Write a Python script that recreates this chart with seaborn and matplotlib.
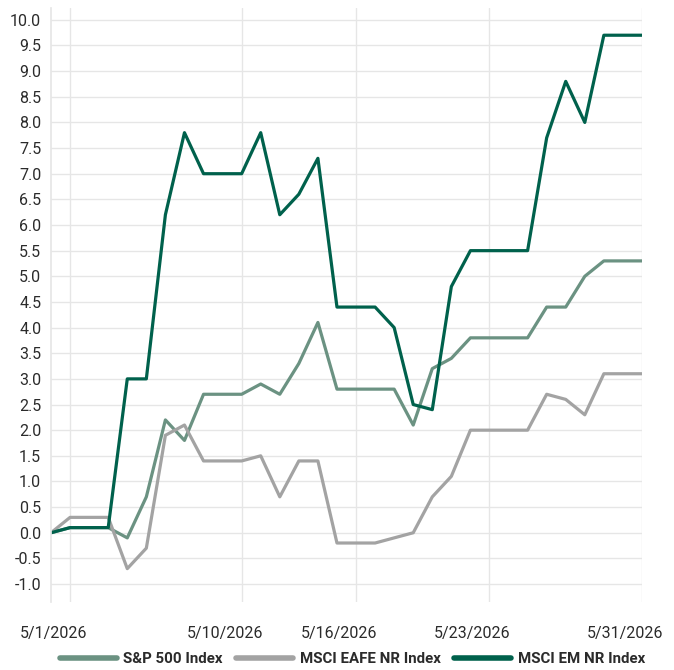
import pandas as pd
import matplotlib.pyplot as plt
import matplotlib.transforms as mtransforms
import seaborn as sns

# Daily cumulative returns (%), 4/30/2026 .. 5/31/2026
dates = pd.date_range("2026-04-30", "2026-05-31", freq="D")

sp500 = [0.0, 0.1, 0.1, 0.1, -0.1, 0.7, 2.2, 1.8, 2.7, 2.7, 2.7, 2.9, 2.7, 3.3, 4.1, 2.8,
         2.8, 2.8, 2.8, 2.1, 3.2, 3.4, 3.8, 3.8, 3.8, 3.8, 4.4, 4.4, 5.0, 5.3, 5.3, 5.3]
eafe = [0.0, 0.3, 0.3, 0.3, -0.7, -0.3, 1.9, 2.1, 1.4, 1.4, 1.4, 1.5, 0.7, 1.4, 1.4, -0.2,
        -0.2, -0.2, -0.1, 0.0, 0.7, 1.1, 2.0, 2.0, 2.0, 2.0, 2.7, 2.6, 2.3, 3.1, 3.1, 3.1]
em = [0.0, 0.1, 0.1, 0.1, 3.0, 3.0, 6.2, 7.8, 7.0, 7.0, 7.0, 7.8, 6.2, 6.6, 7.3, 4.4,
      4.4, 4.4, 4.0, 2.5, 2.4, 4.8, 5.5, 5.5, 5.5, 5.5, 7.7, 8.8, 8.0, 9.7, 9.7, 9.7]

series_names = ["S&P 500 Index", "MSCI EAFE NR Index", "MSCI EM NR Index"]
series_colors = ["#6b9282", "#a3a3a3", "#00614c"]

tick_dates = ["2026-05-01", "2026-05-10", "2026-05-16", "2026-05-23", "2026-05-31"]
tick_labels = ["5/1/2026", "5/10/2026", "5/16/2026", "5/23/2026", "5/31/2026"]
y_ticks = [x / 2 for x in range(-2, 21)]


def run() -> None:
    df = pd.concat([
        pd.DataFrame({"date": dates, "value": vals, "series": name})
        for name, vals in zip(series_names, [sp500, eafe, em])
    ])

    sns.set_theme(style="white")
    plt.rcParams["font.family"] = ["Roboto", "DejaVu Sans"]

    fig = plt.figure(figsize=(6.74, 6.70), dpi=100)
    ax = fig.add_axes([0.0757, 0.1015, 0.8768, 0.8865])

    sns.lineplot(data=df, x="date", y="value", hue="series", hue_order=series_names,
                 palette=series_colors, linewidth=2.3, ax=ax, legend=False)

    ax.set_xlim(dates[0], dates[-1])
    ax.set_ylim(-1.35, 10.23)
    ax.set_yticks(y_ticks)
    ax.set_yticklabels([f"{v:.1f}" for v in y_ticks], fontsize=11.5, color="#2b2b2b")
    ax.set_xticks(pd.to_datetime(tick_dates))
    ax.set_xticklabels(tick_labels, fontsize=11.5, color="#2b2b2b")
    ax.tick_params(axis="x", length=0, pad=17)
    ax.tick_params(axis="y", length=0, pad=7)
    offset = mtransforms.ScaledTranslation(-17 / 100, 0, fig.dpi_scale_trans)
    for lbl in ax.get_xticklabels():
        lbl.set_transform(lbl.get_transform() + offset)

    ax.grid(True, color="#e6e6e6", linewidth=1)
    ax.set_axisbelow(True)
    for side in ["top", "right", "bottom"]:
        ax.spines[side].set_visible(False)
    ax.spines["left"].set_color("#e6e6e6")
    ax.set_xlabel("")
    ax.set_ylabel("")

    handles = [plt.Line2D([0], [0], color=c, linewidth=4) for c in series_colors]
    fig.legend(handles, series_names, loc="center", bbox_to_anchor=(0.523, 0.016), ncol=3,
               frameon=False, handlelength=3.8, columnspacing=0.9, handletextpad=0.45,
               prop={"size": 10.8, "weight": "bold"}, labelcolor="#2b2b2b")

    fig.savefig("out.png", dpi=100)


run()
